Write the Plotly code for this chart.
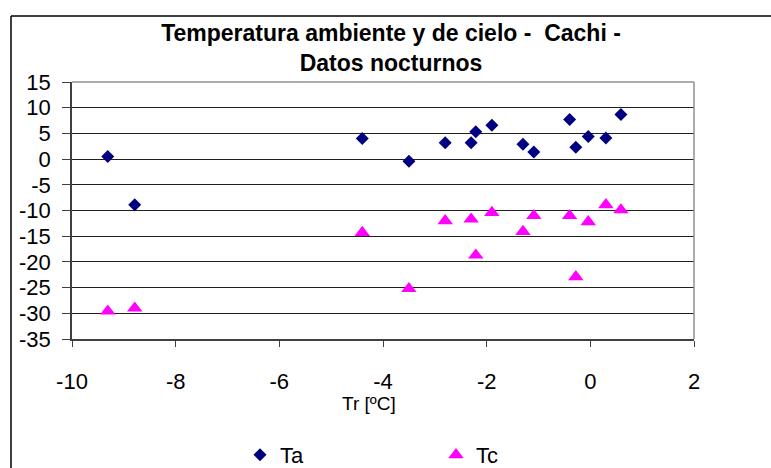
import plotly.graph_objects as go

# Data
tr = [-9.31, -8.79, -4.40, -3.50, -2.80, -2.30, -2.21, -1.90, -1.30, -1.09, -0.40, -0.28, -0.04, 0.30, 0.59]
ta = [0.5, -8.9, 4.0, -0.4, 3.2, 3.2, 5.3, 6.6, 2.9, 1.4, 7.7, 2.3, 4.4, 4.1, 8.7]
tc = [-29.6, -29.0, -14.3, -25.2, -12.0, -11.7, -18.7, -10.4, -14.1, -11.0, -11.0, -22.9, -12.2, -8.9, -9.9]
x_ticks = [-10, -8, -6, -4, -2, 0, 2]
x_labels = ["-10", "-8", "-6", "-4", "-2", "0", "2"]
y_ticks = [15, 10, 5, 0, -5, -10, -15, -20, -25, -30, -35]
y_labels = ["15", "10", "5", "0", "-5", "-10", "-15", "-20", "-25", "-30", "-35"]

FONT = "Liberation Sans, Arial, sans-serif"

fig = go.Figure()
fig.add_trace(go.Scatter(x=tr, y=ta, mode="markers", name="Ta",
                         marker=dict(symbol="diamond", size=10, color="#000080", line=dict(width=0)),
                         legend="legend"))
fig.add_trace(go.Scatter(x=tr, y=tc, mode="markers", name="Tc",
                         marker=dict(symbol="triangle-up", size=13.5, color="#FF00FF", line=dict(width=0)),
                         legend="legend2"))

W, H = 771, 468
L, R, T, B = 72, 694, 82, 339
pw, ph = R - L, B - T

def px(xp):
    return (xp - L) / pw

def py(yp):
    return (B - yp) / ph

def cx(xp):
    return xp / W

def cy(yp):
    return (H - yp) / H

fig.update_layout(
    width=W, height=H,
    margin=dict(l=L, r=W - R, t=T, b=H - B, autoexpand=False),
    paper_bgcolor="white", plot_bgcolor="white",
    font=dict(family=FONT, color="black"),
    title=dict(text="<b>Temperatura ambiente y de cielo -  Cachi -<br>Datos nocturnos</b>",
               x=cx(391), xanchor="center", xref="container", y=cy(41), yref="container",
               yanchor="middle", font=dict(size=23, family=FONT)),
    xaxis=dict(range=[-10, 2], tickvals=x_ticks, ticktext=x_labels, ticks="outside", ticklen=6,
               tickcolor="#404040", showgrid=False, zeroline=False, showline=True,
               linecolor="#404040", linewidth=1.5, tickfont=dict(size=22), ticklabelstandoff=16),
    yaxis=dict(range=[-35, 15], tickvals=y_ticks, ticktext=y_labels, ticks="outside", ticklen=8,
               tickcolor="#404040", showgrid=True, gridcolor="#202020", gridwidth=1,
               zeroline=False, showline=True, linecolor="#404040", linewidth=1.5,
               tickfont=dict(size=22), ticklabelstandoff=7),
    showlegend=True,
    legend=dict(x=cx(240), y=cy(455), xref="container", yref="container",
                xanchor="left", yanchor="middle", orientation="h",
                font=dict(size=22), bgcolor="rgba(0,0,0,0)"),
    legend2=dict(x=cx(436), y=cy(455), xref="container", yref="container",
                 xanchor="left", yanchor="middle", orientation="h",
                 font=dict(size=22), bgcolor="rgba(0,0,0,0)"),
    annotations=[dict(text="Tr [ºC]", x=px(369), y=py(403), xref="paper", yref="paper",
                      xanchor="center", yanchor="middle", showarrow=False, font=dict(size=19))],
    shapes=[
        # plot area border (top and right)
        dict(type="line", xref="paper", yref="paper", x0=0, x1=1, y0=1, y1=1,
             line=dict(color="#909090", width=1.5)),
        dict(type="line", xref="paper", yref="paper", x0=1, x1=1, y0=0, y1=1,
             line=dict(color="#909090", width=1.5)),
        # outer chart border (left and top, cropped at right/bottom)
        dict(type="line", xref="paper", yref="paper", x0=px(11), x1=px(11), y0=py(16), y1=py(500),
             line=dict(color="black", width=1.5)),
        dict(type="line", xref="paper", yref="paper", x0=px(11), x1=px(800), y0=py(16), y1=py(16),
             line=dict(color="black", width=1.5)),
    ],
)

fig.write_html("out.html")
